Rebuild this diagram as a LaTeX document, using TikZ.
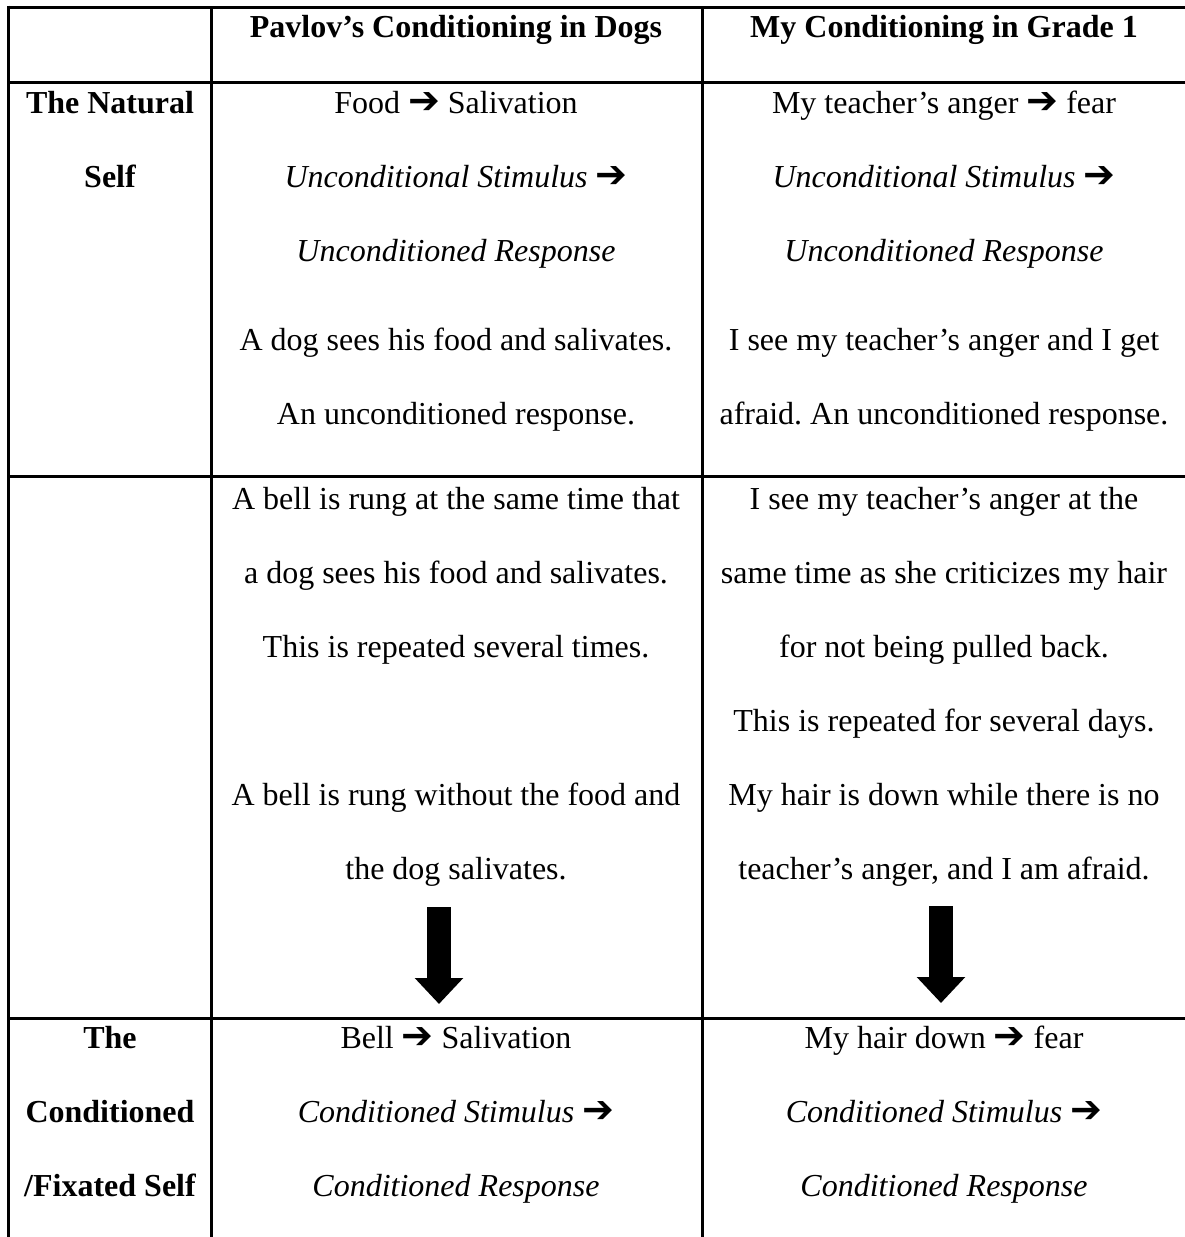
\documentclass[tikz,border=0pt]{standalone}
\usepackage{fontspec}
\setmainfont{Liberation Serif}
\newfontfamily\arrowfont{DejaVu Sans}
\usetikzlibrary{arrows.meta}
\frenchspacing
\newcommand{\rarr}{{\arrowfont\fontsize{38}{74}\selectfont ➔}}
\begin{document}
\begin{tikzpicture}[x=1pt,y=-1pt,
  rule/.style={line width=3pt},
  txt/.style={anchor=base,inner sep=0pt,font=\fontsize{32}{74}\selectfont},
  hdr/.style={txt,font=\fontsize{32}{74}\selectfont\bfseries},
  blockarrow/.style={line width=24pt,-{Triangle[width=47pt,length=26pt]}}]
\useasboundingbox (0,0) rectangle (1185,1237);
% grid lines
\draw[rule] (8,7) -- (1185,7);
\draw[rule] (8,82) -- (1185,82);
\draw[rule] (8,476) -- (1185,476);
\draw[rule] (8,1018) -- (1185,1018);
\draw[rule] (8,5.5) -- (8,1237);
\draw[rule] (211,7) -- (211,1237);
\draw[rule] (702,7) -- (702,1237);
% header
\node[hdr] (h2) at (456,37) {Pavlov’s Conditioning in Dogs};
\node[hdr] (h3) at (944,37) {My Conditioning in Grade 1};
% row 1
\node[hdr] (r1a) at (110,113) {The Natural};
\node[hdr] (r1b) at (110,187) {Self};
\node[txt] (p1) at (456,113) {Food \rarr{} Salivation};
\node[txt] (p2) at (456,187) {\itshape Unconditional Stimulus \rarr};
\node[txt] (p3) at (456,261) {\itshape Unconditioned Response};
\node[txt] (p4) at (456,350) {A dog sees his food and salivates.};
\node[txt] (p5) at (456,424) {An unconditioned response.};
\node[txt] (m1) at (944,113) {My teacher’s anger \rarr{} fear};
\node[txt] (m2) at (944,187) {\itshape Unconditional Stimulus \rarr};
\node[txt] (m3) at (944,261) {\itshape Unconditioned Response};
\node[txt] (m4) at (944,350) {I see my teacher’s anger and I get};
\node[txt] (m5) at (944,424) {afraid. An unconditioned response.};
% row 2
\node[txt] (q1) at (456,509) {A bell is rung at the same time that};
\node[txt] (q2) at (456,583) {a dog sees his food and salivates.};
\node[txt] (q3) at (456,657) {This is repeated several times.};
\node[txt] (q4) at (456,805) {A bell is rung without the food and};
\node[txt] (q5) at (456,879) {the dog salivates.};
\node[txt] (n1) at (944,509) {I see my teacher’s anger at the};
\node[txt] (n2) at (944,583) {same time as she criticizes my hair};
\node[txt] (n3) at (944,657) {for not being pulled back.};
\node[txt] (n4) at (944,731) {This is repeated for several days.};
\node[txt] (n5) at (944,805) {My hair is down while there is no};
\node[txt] (n6) at (944,879) {teacher’s anger, and I am afraid.};
% arrows
\coordinate (a1s) at (439,907);
\coordinate (a1e) at (439,1004);
\coordinate (a2s) at (941,906);
\coordinate (a2e) at (941,1003);
\draw[blockarrow] (a1s) -- (a1e);
\draw[blockarrow] (a2s) -- (a2e);
% row 3
\node[hdr] (r3a) at (110,1048) {The};
\node[hdr] (r3b) at (110,1122) {Conditioned};
\node[hdr] (r3c) at (110,1196) {/Fixated Self};
\node[txt] (s1) at (456,1048) {Bell \rarr{} Salivation};
\node[txt] (s2) at (456,1122) {\itshape Conditioned Stimulus \rarr};
\node[txt] (s3) at (456,1196) {\itshape Conditioned Response};
\node[txt] (t1) at (944,1048) {My hair down \rarr{} fear};
\node[txt] (t2) at (944,1122) {\itshape Conditioned Stimulus \rarr};
\node[txt] (t3) at (944,1196) {\itshape Conditioned Response};
\end{tikzpicture}
\end{document}
